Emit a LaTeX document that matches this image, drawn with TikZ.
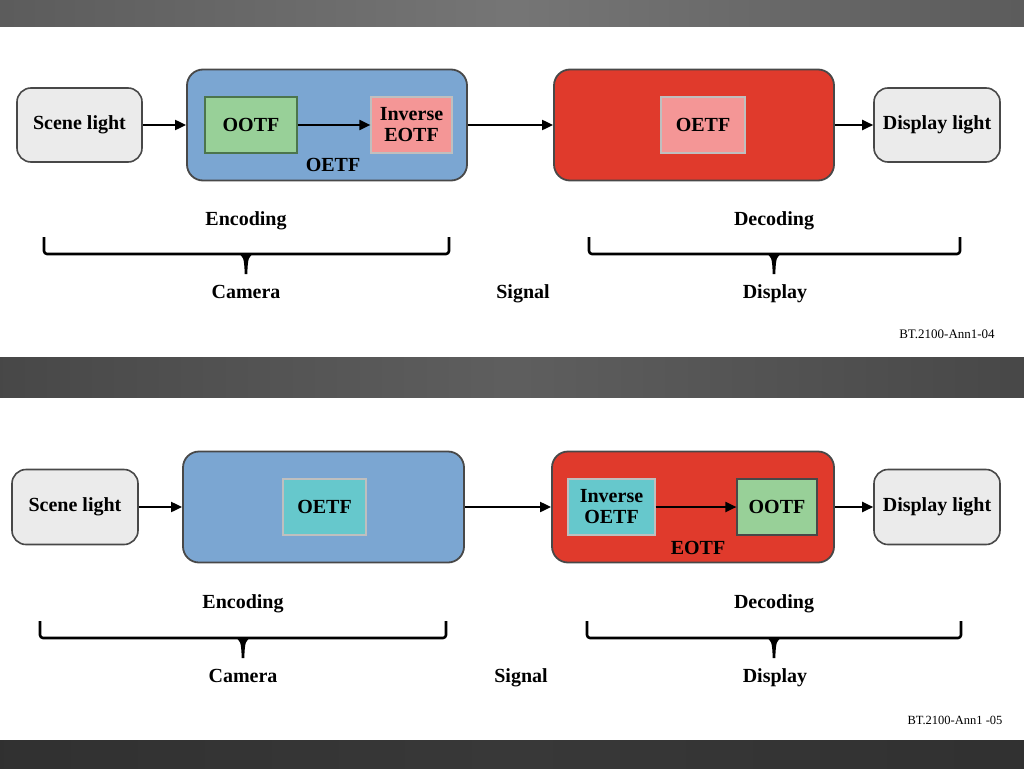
\documentclass[tikz,border=0pt]{standalone}
\usepackage{fontspec}
\setmainfont{Liberation Serif}
\usepackage{xcolor}
\usetikzlibrary{positioning, arrows.meta, calc}
\definecolor{encblue}{RGB}{123,166,210}
\definecolor{decred}{RGB}{224,58,44}
\definecolor{ootfgreen}{RGB}{152,208,152}
\definecolor{tfpink}{RGB}{244,150,150}
\definecolor{tfteal}{RGB}{102,200,204}
\definecolor{lightbox}{RGB}{235,235,235}
\definecolor{boxline}{RGB}{72,72,72}
\tikzset{
  lightnode/.style={
    draw=boxline, fill=lightbox, line width=1.6pt, rounded corners=14pt,
    minimum width=125pt, minimum height=74pt,
    align=center, font=\fontsize{20}{22}\selectfont\bfseries
  },
  stage/.style={
    draw=boxline, fill=#1, line width=1.8pt, rounded corners=16pt,
    minimum width=280pt, minimum height=111pt
  },
  tfbox/.style={
    draw=#1, line width=1.2pt, inner sep=0pt,
    minimum height=56pt, align=center,
    font=\fontsize{20}{21}\selectfont\bfseries
  },
  lbl/.style={font=\fontsize{20}{22}\selectfont\bfseries, text height=13pt, text depth=4pt},
  arrow/.style={-{Triangle[length=11pt, width=10pt]}, line width=2pt},
  bracestyle/.style={line width=2.6pt, line join=round, rounded corners=3pt},
  band/.style={draw=none}
}
% square brace: left x, right x, centre x, top y
\newcommand{\spanbrace}[4]{
  \draw[bracestyle] (#1,#4) -- (#1,#4+17) -- (#2,#4+17) -- (#2,#4);
  \fill (#3-9,#4+17) .. controls (#3-2.5,#4+17.5) and (#3-1.8,#4+22) .. (#3-1.3,#4+37)
        -- (#3+1.3,#4+37) .. controls (#3+1.8,#4+22) and (#3+2.5,#4+17.5) .. (#3+9,#4+17) -- cycle;
}

\begin{document}
\begin{tikzpicture}[x=1pt, y=-1pt]
\useasboundingbox (0,0) rectangle (1024,768);

%% ── Grey bands ───────────────────────────────────────────────
\shade[band, left color=black!64, right color=black!64, middle color=black!54] (0,0) rectangle (1024,27);
\shade[band, left color=black!72, right color=black!72, middle color=black!63] (0,357) rectangle (1024,397);
\shade[band, left color=black!81, right color=black!81, middle color=black!78] (0,740) rectangle (1024,768);

%% ── Upper chain (OOTF in camera) ─────────────────────────────
\node[lightnode] (scene1) at (79.5,125) {Scene light};
\node[stage=encblue] (enc1) at (327,125) {};
\node[tfbox={black!60!green!40!gray}, fill=ootfgreen, minimum width=92pt] (ootf1) at (251,125) {OOTF};
\node[tfbox=black!25, fill=tfpink, minimum width=81pt] (ieotf1) at (411.5,125) {Inverse\\EOTF};
\node[lbl] (oetflbl1) at (333,167) {OETF};
\node[stage=decred] (dec1) at (694,125) {};
\node[tfbox=black!25, fill=tfpink, minimum width=84pt] (oetf1) at (703,125) {OETF};
\node[lightnode, minimum width=126pt] (disp1) at (937,125) {Display light};

\draw[arrow] (scene1.east) -- (enc1.west);
\draw[arrow] (ootf1.east) -- (ieotf1.west);
\draw[arrow] (enc1.east) -- (dec1.west);
\draw[arrow] (dec1.east) -- (disp1.west);

\node[lbl] (encode1) at (246,221) {Encoding};
\node[lbl] (decode1) at (774,221) {Decoding};
\spanbrace{44}{449}{246}{237}
\spanbrace{589}{960}{774}{237}
\node[lbl] (camera1) at (246,294) {Camera};
\node[lbl] (signal1) at (523,294) {Signal};
\node[lbl] (display1) at (775,294) {Display};
\node[font=\fontsize{13}{15}\selectfont] (ref1) at (947,334) {BT.2100-Ann1-04};

%% ── Lower chain (OOTF in display) ────────────────────────────
\node[lightnode, minimum width=126pt, minimum height=75pt] (scene2) at (75,507) {Scene light};
\node[stage=encblue, minimum width=281pt] (enc2) at (323.5,507) {};
\node[tfbox=black!25, fill=tfteal, minimum width=83pt] (oetf2) at (324.5,507) {OETF};
\node[stage=decred, minimum width=282pt] (dec2) at (693,507) {};
\node[tfbox=black!25, fill=tfteal, minimum width=87pt] (ioetf2) at (611.5,507) {Inverse\\OETF};
\node[tfbox=boxline, fill=ootfgreen, minimum width=80pt] (ootf2) at (777,507) {OOTF};
\node[lbl] (eotflbl2) at (698,550) {EOTF};
\node[lightnode, minimum width=126pt, minimum height=75pt] (disp2) at (937,507) {Display light};

\draw[arrow] (scene2.east) -- (enc2.west);
\draw[arrow] (enc2.east) -- (dec2.west);
\draw[arrow] (ioetf2.east) -- (ootf2.west);
\draw[arrow] (dec2.east) -- (disp2.west);

\node[lbl] (encode2) at (243,604) {Encoding};
\node[lbl] (decode2) at (774,604) {Decoding};
\spanbrace{40}{446}{243}{621}
\spanbrace{587}{961}{774}{621}
\node[lbl] (camera2) at (243,678) {Camera};
\node[lbl] (signal2) at (521,678) {Signal};
\node[lbl] (display2) at (775,678) {Display};
\node[font=\fontsize{12.5}{15}\selectfont] (ref2) at (955,720) {BT.2100-Ann1 -05};

\end{tikzpicture}
\end{document}
